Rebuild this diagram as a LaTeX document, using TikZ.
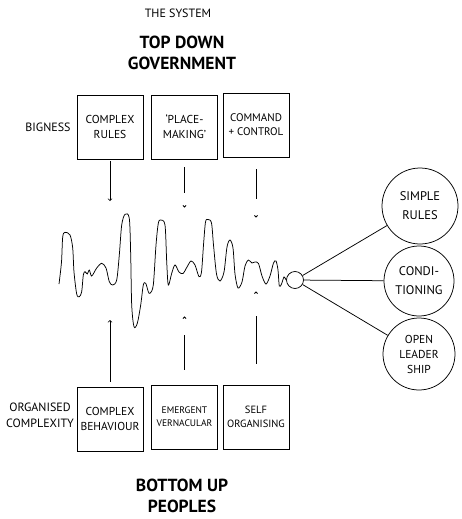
\documentclass[tikz,border=0pt]{standalone}
\usepackage{fontspec}
\setmainfont{PT Sans}
\begin{document}
\begin{tikzpicture}
    [x=1pt,y=-1pt,line width=0.75pt,
    box/.style={draw,minimum width=66pt,minimum height=64pt,inner sep=1pt,align=center,font=\fontsize{11.5}{15}\selectfont},
    ring/.style={draw,circle,inner sep=0pt,align=center,font=\fontsize{12.5}{19}\selectfont},
    head/.style={align=center,font=\bfseries\fontsize{17.5}{21}\selectfont},
    side/.style={align=center,font=\fontsize{12}{16}\selectfont}]
		\useasboundingbox (0,0) rectangle (461,519);

		\node [side] (system) at (178,13) {THE SYSTEM};
		\node [head] (topdown) at (182,53) {TOP DOWN\\GOVERNMENT};
		\node [head] (bottomup) at (182,496) {BOTTOM UP\\PEOPLES};

		\node [box] (crules) at (110,127) {COMPLEX\\RULES};
		\node [box] (place) at (184.5,127) {‘PLACE-\\MAKING’};
		\node [box,font=\fontsize{11}{14}\selectfont] (command) at (256,125) {COMMAND\\+ CONTROL};
		\node [side] (bigness) at (48,127) {BIGNESS};

		\node [box] (cbehav) at (110,419) {COMPLEX\\BEHAVIOUR};
		\node [box,font=\fontsize{9.5}{13}\selectfont] (vernac) at (184.5,417) {EMERGENT\\VERNACULAR};
		\node [box,font=\fontsize{10.5}{14}\selectfont] (selforg) at (256,417) {SELF\\ORGANISING};
		\node [side] (organised) at (40,415) {ORGANISED\\COMPLEXITY};

		\node [draw,circle,minimum size=17pt] (hub) at (295,280) {};
		\node [ring,minimum size=76pt] (simple) at (420,206) {SIMPLE\\RULES};
		\node [ring,minimum size=70pt] (cond) at (419,281) {CONDI-\\TIONING};
		\node [ring,minimum size=72pt,font=\fontsize{11.5}{15}\selectfont] (leader) at (419,354) {OPEN\\LEADER\\SHIP};

		\draw (hub) -- (simple);
		\draw (hub) -- (cond);
		\draw (hub) -- (leader);

		% the signal
		\draw plot[smooth,tension=0.5] coordinates {(59,284) (61.5,262) (62.7,237) (65,232.3) (70,235) (72.7,248) (74,272) (76.7,294) (79.3,296.7) (81.7,291.7) (83.3,275) (85,271.7) (87.3,274) (89.3,270) (91.7,276) (96.7,268) (101.7,263.3) (106,268) (109.3,281.7) (112.7,285) (116.7,280) (119.3,255) (121.7,225) (125,214.3) (129.3,218.3) (130.7,255) (131.7,305) (134,326.7) (137.3,323.3) (140.7,305) (143.3,285) (145.7,283.3) (148.3,291.7) (150,293.3) (153.3,285) (156,245) (158.3,223.3) (160.7,220) (165,225) (166.7,261.7) (168.3,285) (171.7,273.3) (175,265) (179,272) (183,273.5) (187,267) (191,261) (195,265) (199,276.7) (201.5,272) (203.5,245) (205.5,222) (208,219.5) (211.5,223) (213.5,245) (216.5,274) (220,281) (224,272) (227,247) (230,240) (233,248) (235,274) (238,288) (242,282) (245,266) (248.3,260) (252,263) (255,262) (258.5,263.5) (262,276) (266,284) (270,276) (273.5,263) (276,261) (278,270) (279.3,286) (281.5,284) (284,277) (hub.west)};

		% arrows from the top
		\coordinate (crulestip) at (110,201);
		\coordinate (placeend) at (184.5,193);
		\coordinate (placetip) at (184.5,207);
		\coordinate (commandend) at (256,199);
		\coordinate (commandtip) at (256,217);
		\draw[->] ([yshift=-2pt]crules.south) -- (crulestip);
		\draw ([yshift=-8pt]place.south) -- (placeend);
		\draw (placetip) +(-1.6,-1.6) -- (placetip) -- +(1.6,-1.6);
		\draw ([yshift=-12pt]command.south) -- (commandend);
		\draw (commandtip) +(-1.6,-1.6) -- (commandtip) -- +(1.6,-1.6);

		% arrows from below
		\coordinate (cbehavtip) at (110,320);
		\coordinate (vernacend) at (184.5,335);
		\coordinate (vernactip) at (184.5,317);
		\coordinate (selforgend) at (256,316);
		\coordinate (selforgtip) at (256,292);
		\draw[->] ([yshift=5pt]cbehav.north) -- (cbehavtip);
		\draw ([yshift=15pt]vernac.north) -- (vernacend);
		\draw (vernactip) +(-1.6,1.6) -- (vernactip) -- +(1.6,1.6);
		\draw ([yshift=21pt]selforg.north) -- (selforgend);
		\draw (selforgtip) +(-1.6,1.6) -- (selforgtip) -- +(1.6,1.6);
    \end{tikzpicture}
\end{document}
